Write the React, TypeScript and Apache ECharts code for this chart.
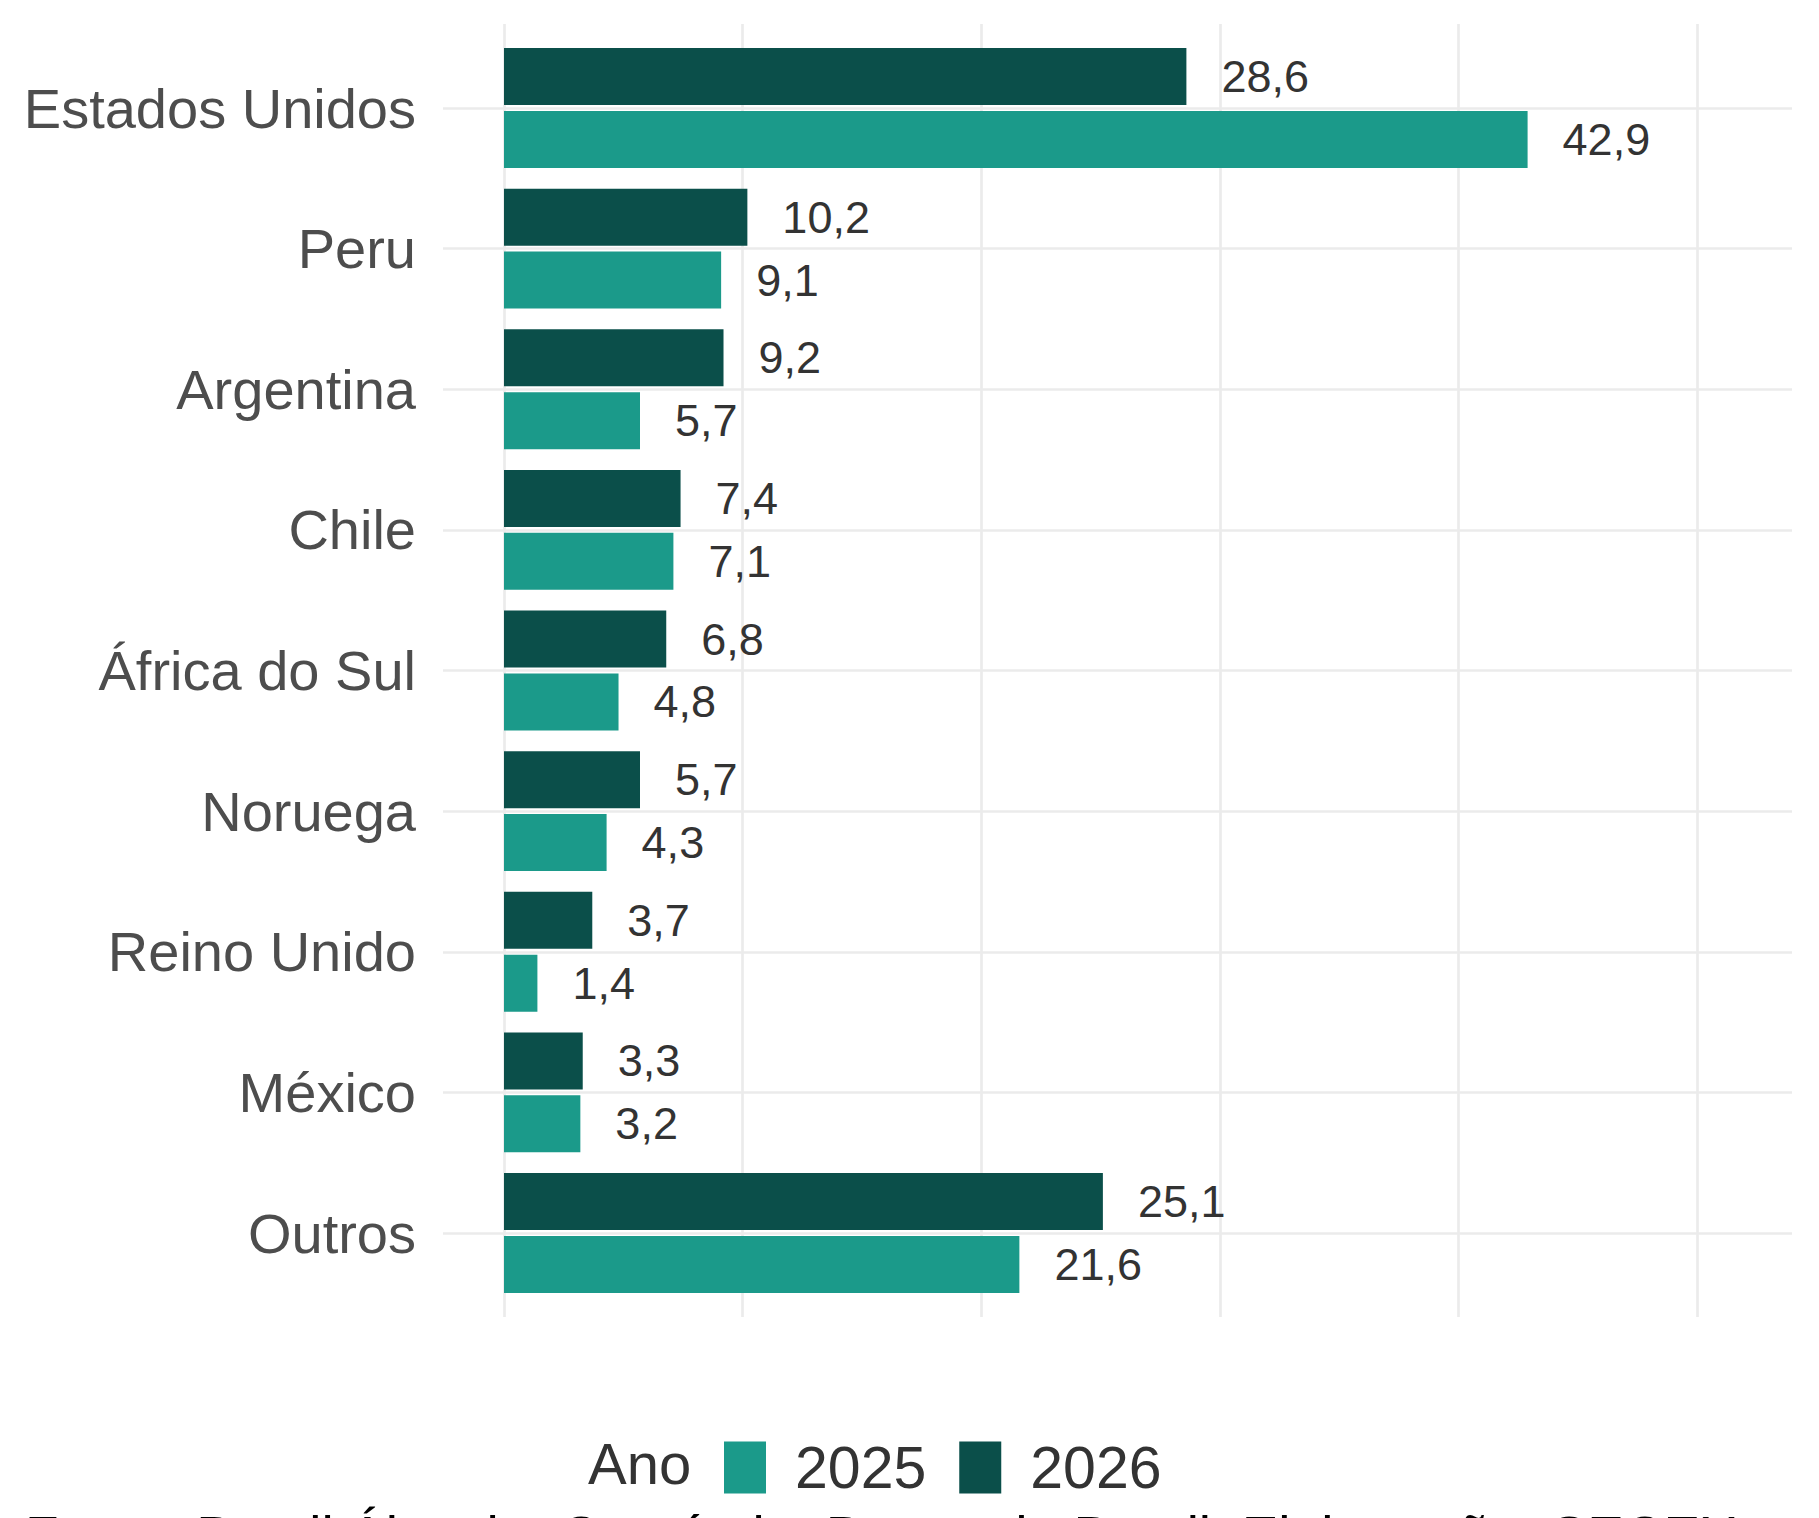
import React, { useEffect, useRef } from "react";
import * as echarts from "echarts";

const categories = ["Estados Unidos", "Peru", "Argentina", "Chile", "África do Sul", "Noruega", "Reino Unido", "México", "Outros"];
const values2025 = [42.9, 9.1, 5.7, 7.1, 4.8, 4.3, 1.4, 3.2, 21.6];
const values2026 = [28.6, 10.2, 9.2, 7.4, 6.8, 5.7, 3.7, 3.3, 25.1];
const seriesNames = ["2025", "2026"];
const xTicks = [0, 10, 20, 30, 40, 50];
const legendTitle = "Ano";
const caption = "Fonte: Brasil Álcool e Comércio; Banco do Brasil; Elaboração: SECEX";

const W = 1819;
const H = 1518;
const FONT = "'Liberation Sans', Arial, sans-serif";
const PANEL_L = 443;
const PANEL_R = 1792;
const PANEL_T = 24;
const PANEL_B = 1317;
const ZERO_X = 504;
const PX_PER_UNIT = 23.86;
const CAT_FIRST_Y = 108;
const CAT_LAST_Y = 1233;
const COLOR_2025 = "#1B9A8A";
const COLOR_2026 = "#0B4F4A";
const GRID_COLOR = "#EBEBEB";
const GRID_W = 2.7;

function fmt(v: number) {
  return v.toFixed(1).replace(".", ",");
}

export default function App() {
  const ref = useRef<HTMLDivElement>(null);
  useEffect(() => {
    if (!ref.current) return;
    const chart = echarts.init(ref.current, undefined, { renderer: "svg", width: W, height: H });
    const xMax = xTicks[xTicks.length - 1];
    const tickStep = xTicks[1] - xTicks[0];
    const band = (CAT_LAST_Y - CAT_FIRST_Y) / (categories.length - 1);
    const dataWidth = xMax * PX_PER_UNIT;
    const labelStyle = {
      show: true,
      position: "right" as const,
      distance: 35,
      fontSize: 45,
      color: "#333333",
      fontFamily: FONT,
      formatter: (p: any) => fmt(p.value),
    };
    chart.setOption({
      animation: false,
      backgroundColor: "#ffffff",
      textStyle: { fontFamily: FONT },
      grid: [
        { left: ZERO_X, width: dataWidth, top: CAT_FIRST_Y - band / 2, height: band * categories.length, containLabel: false },
        { left: ZERO_X, width: dataWidth, top: PANEL_T, height: PANEL_B - PANEL_T, containLabel: false },
        { left: PANEL_L, width: PANEL_R - PANEL_L, top: CAT_FIRST_Y, height: CAT_LAST_Y - CAT_FIRST_Y, containLabel: false },
      ],
      xAxis: [
        { type: "value", gridIndex: 0, min: 0, max: xMax, show: false },
        {
          type: "value",
          gridIndex: 1,
          min: 0,
          max: xMax,
          interval: tickStep,
          axisLine: { show: false },
          axisTick: { show: false },
          axisLabel: { show: false },
          splitLine: { show: true, lineStyle: { color: GRID_COLOR, width: GRID_W } },
        },
        { type: "value", gridIndex: 2, min: 0, max: 1, show: false },
      ],
      yAxis: [
        {
          type: "category",
          gridIndex: 0,
          data: categories,
          inverse: true,
          axisLine: { show: false },
          axisTick: { show: false },
          splitLine: { show: false },
          axisLabel: {
            margin: ZERO_X - 416,
            fontSize: 56,
            color: "#4D4D4D",
            fontFamily: FONT,
          },
        },
        { type: "value", gridIndex: 1, min: 0, max: 1, show: false },
        {
          type: "value",
          gridIndex: 2,
          min: 0,
          max: categories.length - 1,
          interval: 1,
          axisLine: { show: false },
          axisTick: { show: false },
          axisLabel: { show: false },
          splitLine: { show: true, lineStyle: { color: GRID_COLOR, width: GRID_W } },
        },
      ],
      legend: {
        data: seriesNames,
        left: 719,
        top: 1433,
        orient: "horizontal",
        icon: "rect",
        itemWidth: 42,
        itemHeight: 52,
        itemGap: 33,
        selectedMode: false,
        textStyle: { fontSize: 59, color: "#333333", fontFamily: FONT, padding: [0, 0, 0, 24] },
      },
      graphic: [
        {
          type: "text",
          x: 588,
          y: 1463,
          style: { text: legendTitle, fontSize: 58, fill: "#333333", fontFamily: FONT, verticalAlign: "middle" },
        },
        {
          type: "text",
          x: 25,
          y: 1536,
          style: { text: caption, fontSize: 55, fill: "#000000", fontFamily: FONT, verticalAlign: "middle" },
        },
      ],
      series: [
        {
          name: seriesNames[1],
          type: "bar",
          xAxisIndex: 0,
          yAxisIndex: 0,
          data: values2026,
          barWidth: "40.5%",
          barGap: "10.5%",
          itemStyle: { color: COLOR_2026 },
          label: labelStyle,
        },
        {
          name: seriesNames[0],
          type: "bar",
          xAxisIndex: 0,
          yAxisIndex: 0,
          data: values2025,
          barWidth: "40.5%",
          barGap: "10.5%",
          itemStyle: { color: COLOR_2025 },
          label: labelStyle,
        },
      ],
    });
    return () => chart.dispose();
  }, []);
  return (
    <div
      ref={ref}
      style={{ position: "fixed", left: 0, top: 0, width: W, height: H, background: "#ffffff", overflow: "hidden" }}
    />
  );
}
